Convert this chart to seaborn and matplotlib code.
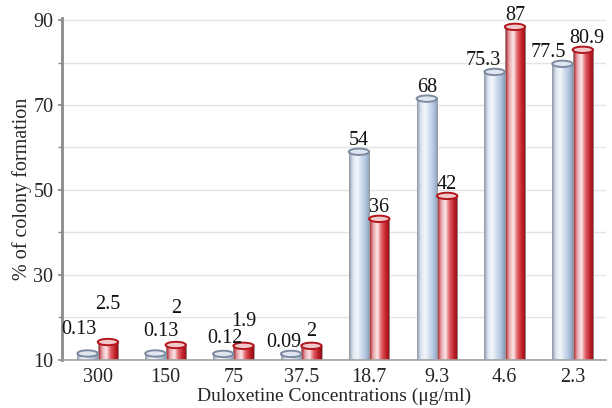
import numpy as np
import pandas as pd
import seaborn as sns
import matplotlib.pyplot as plt
from matplotlib.colors import LinearSegmentedColormap
from matplotlib.patches import Ellipse

# data
concentrations = ['300', '150', '75', '37.5', '18.7', '9.3', '4.6', '2.3']
blue_heights = [11.5, 11.5, 11.4, 11.4, 59.0, 71.5, 77.8, 79.7]
red_heights = [14.2, 13.5, 13.3, 13.3, 43.2, 48.6, 88.4, 83.0]
blue_labels = ['0.13', '0.13', '0.12', '0.09', '54', '68', '75.3', '77.5']
red_labels = ['2.5', '2', '1.9', '2', '36', '42', '87', '80.9']

# label nudges (pixels), to mimic the original placement
blue_dx = [-9, 5, 2, -7, 0, 0, -11, -14]
blue_dy = [12, 10, 4, 0, 0, 0, 0, 0]
red_dx = [0, 0, 0, 0, 0, 0, 0, 4]
red_dy = [26, 25, 13, 3, 0, 0, 0, 0]

FS = 14.5

sns.set_theme(style='white')
plt.rcParams['font.family'] = ['Liberation Serif', 'DejaVu Serif']
plt.rcParams['font.size'] = FS

df = pd.DataFrame({
    'conc': concentrations * 2,
    'value': blue_heights + red_heights,
    'series': ['a'] * len(concentrations) + ['b'] * len(concentrations),
})

fig = plt.figure(figsize=(6.12, 4.08), dpi=100)
ax = fig.add_axes([0.101, 0.118, 0.889, 0.838])

sns.barplot(data=df, x='conc', y='value', hue='series', order=concentrations,
            palette=['#c9d7ea', '#c8282e'], width=0.6, saturation=1,
            legend=False, ax=ax, zorder=3)

# cylinder-like shading
blue_cmap = LinearSegmentedColormap.from_list(
    'b', ['#8c9cb4', '#dfe7f2', '#f4f7fb', '#cfdcee', '#b2c5e0', '#8a9ab3'])
red_cmap = LinearSegmentedColormap.from_list(
    'r', ['#9c0d16', '#e9a6a9', '#fbe9ea', '#e06066', '#c4232b', '#8e0b12'])
grad = np.linspace(0, 1, 256).reshape(1, -1)

caps = [('#dfe6f0', '#7c8aa0'), ('#f2c9cb', '#b3151d')]
for cont, cmap, (cap_fc, cap_ec) in zip(ax.containers, [blue_cmap, red_cmap], caps):
    for bar in cont:
        x, w, h = bar.get_x(), bar.get_width(), bar.get_height()
        bar.set_facecolor('none')
        bar.set_edgecolor('#9a9a9a')
        bar.set_linewidth(0.6)
        ax.imshow(grad, cmap=cmap, extent=[x, x + w, 0, h], aspect='auto',
                  zorder=2.5, interpolation='bilinear')
        ax.add_patch(Ellipse((x + w / 2, h), w, 1.5, facecolor=cap_fc,
                             edgecolor=cap_ec, lw=1.4, zorder=4))

# value labels
for cont, labels, dxs, dys in [(ax.containers[0], blue_labels, blue_dx, blue_dy),
                               (ax.containers[1], red_labels, red_dx, red_dy)]:
    for bar, lab, dx, dy in zip(cont, labels, dxs, dys):
        ax.annotate(lab, (bar.get_x() + bar.get_width() / 2, bar.get_height() + 0.5),
                    xytext=(dx, dy), textcoords='offset pixels',
                    ha='center', va='bottom', fontsize=FS, color='#111111',
                    zorder=5)

ax.set_xlim(-0.53, 7.49)
ax.set_ylim(10, 90.5)
ax.set_yticks([10, 30, 50, 70, 90])
ax.set_yticks([20, 40, 60, 80], minor=True)
ax.yaxis.grid(True, which='both', color='#e4e4e4', lw=1, zorder=0)
ax.set_axisbelow(True)

for s in ['top', 'right']:
    ax.spines[s].set_visible(False)
ax.spines['left'].set_color('#8a8a8a')
ax.spines['left'].set_linewidth(2)
ax.spines['bottom'].set_color('#a0a0a0')
ax.spines['bottom'].set_linewidth(1.2)
ax.tick_params(axis='y', which='both', left=True, length=3, color='#8a8a8a',
               labelsize=FS, pad=3)
ax.tick_params(axis='x', bottom=False, labelsize=FS, pad=0)

ax.set_xlabel('Duloxetine Concentrations (μg/ml)', fontsize=14, labelpad=0)
ax.set_ylabel('% of colony formation', fontsize=FS, labelpad=1)

fig.savefig('out.png', dpi=100)
